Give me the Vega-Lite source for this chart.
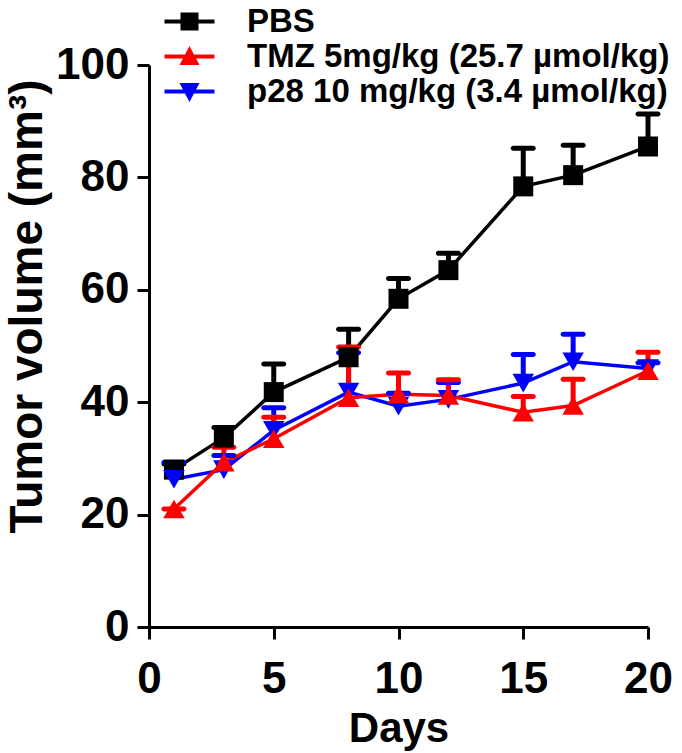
{
  "$schema": "https://vega.github.io/schema/vega-lite/v6.json",
  "width": 499,
  "height": 562,
  "autosize": {"type": "none"},
  "padding": {"left": 149, "top": 65, "right": 34, "bottom": 126},
  "background": "white",
  "config": {
    "view": {"stroke": null},
    "font": "Liberation Sans"
  },
  "data": {
    "values": [
      {"group": "PBS", "day": 1, "mean": 28.0, "upper": 29.0},
      {"group": "PBS", "day": 3, "mean": 33.7, "upper": 35.5},
      {"group": "PBS", "day": 5, "mean": 41.8, "upper": 46.8},
      {"group": "PBS", "day": 8, "mean": 48.0, "upper": 53.0},
      {"group": "PBS", "day": 10, "mean": 58.4, "upper": 62.0},
      {"group": "PBS", "day": 12, "mean": 63.5, "upper": 66.5},
      {"group": "PBS", "day": 15, "mean": 78.4, "upper": 85.2},
      {"group": "PBS", "day": 17, "mean": 80.4, "upper": 85.7},
      {"group": "PBS", "day": 20, "mean": 85.5, "upper": 91.3},
      {"group": "p28 10 mg/kg (3.4 µmol/kg)", "day": 1, "mean": 26.3, "upper": 29.3},
      {"group": "p28 10 mg/kg (3.4 µmol/kg)", "day": 3, "mean": 28.0, "upper": 30.5},
      {"group": "p28 10 mg/kg (3.4 µmol/kg)", "day": 5, "mean": 35.0, "upper": 39.0},
      {"group": "p28 10 mg/kg (3.4 µmol/kg)", "day": 8, "mean": 41.8, "upper": 48.8},
      {"group": "p28 10 mg/kg (3.4 µmol/kg)", "day": 10, "mean": 39.3, "upper": 41.6},
      {"group": "p28 10 mg/kg (3.4 µmol/kg)", "day": 12, "mean": 40.5, "upper": 43.5},
      {"group": "p28 10 mg/kg (3.4 µmol/kg)", "day": 15, "mean": 43.4, "upper": 48.5},
      {"group": "p28 10 mg/kg (3.4 µmol/kg)", "day": 17, "mean": 47.2, "upper": 52.1},
      {"group": "p28 10 mg/kg (3.4 µmol/kg)", "day": 20, "mean": 46.0, "upper": 47.0},
      {"group": "TMZ 5mg/kg (25.7 µmol/kg)", "day": 1, "mean": 21.0, "upper": 21.0},
      {"group": "TMZ 5mg/kg (25.7 µmol/kg)", "day": 3, "mean": 29.3, "upper": 32.0},
      {"group": "TMZ 5mg/kg (25.7 µmol/kg)", "day": 5, "mean": 33.5, "upper": 37.3},
      {"group": "TMZ 5mg/kg (25.7 µmol/kg)", "day": 8, "mean": 40.8, "upper": 49.8},
      {"group": "TMZ 5mg/kg (25.7 µmol/kg)", "day": 10, "mean": 41.4, "upper": 45.2},
      {"group": "TMZ 5mg/kg (25.7 µmol/kg)", "day": 12, "mean": 41.2, "upper": 44.0},
      {"group": "TMZ 5mg/kg (25.7 µmol/kg)", "day": 15, "mean": 38.2, "upper": 41.0},
      {"group": "TMZ 5mg/kg (25.7 µmol/kg)", "day": 17, "mean": 39.4, "upper": 44.1},
      {"group": "TMZ 5mg/kg (25.7 µmol/kg)", "day": 20, "mean": 45.6, "upper": 48.9}
    ]
  },
  "encoding": {
    "x": {
      "field": "day", "type": "quantitative",
      "scale": {"domain": [0, 20], "nice": false, "zero": false},
      "axis": {
        "values": [0, 5, 10, 15, 20],
        "grid": false,
        "domainColor": "black", "domainWidth": 3,
        "tickColor": "black", "tickWidth": 3, "tickSize": 12,
        "labelFont": "Liberation Sans", "labelFontSize": 44, "labelFontWeight": "bold", "labelColor": "black",
        "labelPadding": 18, "labelFlush": false,
        "title": "Days", "titleFont": "Liberation Sans", "titleFontSize": 42, "titleFontWeight": "bold", "titleColor": "black",
        "titleBaseline": "alphabetic", "titleY": 114
      }
    },
    "y": {
      "field": "mean", "type": "quantitative",
      "scale": {"domain": [0, 100], "nice": false},
      "axis": {
        "values": [0, 20, 40, 60, 80, 100],
        "grid": false,
        "domainColor": "black", "domainWidth": 3,
        "tickColor": "black", "tickWidth": 3, "tickSize": 12,
        "labelFont": "Liberation Sans", "labelFontSize": 44, "labelFontWeight": "bold", "labelColor": "black",
        "labelPadding": 8, "labelFlush": false,
        "title": "Tumor volume (mm³)", "titleFont": "Liberation Sans", "titleFontSize": 46, "titleFontWeight": "bold", "titleColor": "black",
        "titleAngle": -90, "titleAlign": "center", "titleBaseline": "alphabetic", "titleX": -108, "titleY": 241
      }
    }
  },
  "layer": [
    {
      "mark": {"type": "line", "strokeWidth": 3.5},
      "encoding": {
        "color": {"field": "group", "type": "nominal", "scale": {"domain": ["PBS", "TMZ 5mg/kg (25.7 µmol/kg)", "p28 10 mg/kg (3.4 µmol/kg)"], "range": ["#000000", "#ff0000", "#0000ff"]},
          "legend": {
            "orient": "none", "legendX": 24, "legendY": -60, "title": null,
            "labelFont": "Liberation Sans", "labelFontSize": 33, "labelFontWeight": "bold", "labelColor": "black",
            "labelLimit": 700, "labelOffset": 41, "rowPadding": 1, "padding": 0,
            "symbolSize": 400,
            "encode": {
              "symbols": {
                "update": {
                  "shape": {"signal": "datum.value === 'PBS' ? 'M-2.5,-0.2H2.5V0.2H-2.5Z M-0.9,-0.9H0.9V0.9H-0.9Z' : (datum.value === 'TMZ 5mg/kg (25.7 µmol/kg)' ? 'M-2.5,-0.2H2.5V0.2H-2.5Z M0,-1.05L1.0,0.85H-1.0Z' : 'M-2.5,-0.2H2.5V0.2H-2.5Z M0,1.05L-1.0,-0.85H1.0Z')"},
                  "fill": {"scale": "color", "field": "value"},
                  "strokeWidth": {"value": 0},
                  "size": {"value": 400},
                  "opacity": {"value": 1}
                }
              }
            }
          }}
      }
    },
    {
      "mark": {"type": "rule", "strokeWidth": 5},
      "encoding": {
        "y2": {"field": "upper"},
        "color": {"field": "group", "type": "nominal", "legend": null}
      }
    },
    {
      "mark": {"type": "tick", "orient": "horizontal", "size": 25, "thickness": 5, "cornerRadius": 2.5, "opacity": 1},
      "encoding": {
        "y": {"field": "upper", "type": "quantitative"},
        "color": {"field": "group", "type": "nominal", "legend": null}
      }
    },
    {
      "transform": [{"filter": "datum.group === 'PBS'"}],
      "mark": {"type": "point", "shape": "square", "filled": true, "size": 400, "opacity": 1, "color": "#000000"}
    },
    {
      "transform": [{"filter": "datum.group === 'p28 10 mg/kg (3.4 µmol/kg)'"}],
      "mark": {"type": "point", "shape": "triangle-down", "filled": true, "size": 460, "opacity": 1, "color": "#0000ff"}
    },
    {
      "transform": [{"filter": "datum.group === 'TMZ 5mg/kg (25.7 µmol/kg)'"}],
      "mark": {"type": "point", "shape": "triangle-up", "filled": true, "size": 460, "opacity": 1, "color": "#ff0000"}
    }
  ]
}
